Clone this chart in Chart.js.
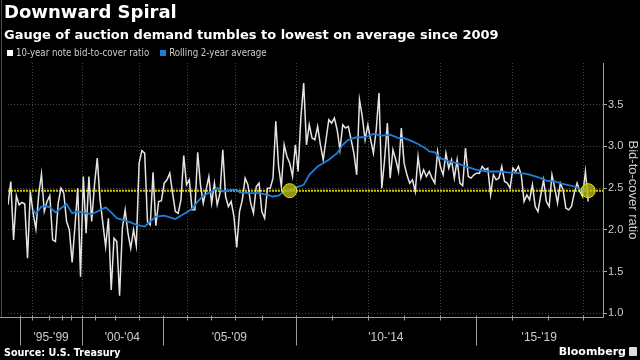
<!DOCTYPE html>
<html>
<head>
  <title>Downward Spiral</title>
  <style>
    body {
      margin: 0;
      background: #000;
      width: 640px;
      height: 360px;
      overflow: hidden;
      position: relative;
      font-family: "DejaVu Sans", sans-serif;
    }
    #edge {
      position: absolute;
      left: 1px;
      top: 0;
      width: 1px;
      height: 317px;
      background: #4a4a4a;
    }
    #title {
      position: absolute;
      left: 4px;
      top: 1px;
      color: #fff;
      font-weight: bold;
      font-size: 18px;
      line-height: 22px;
    }
    #subtitle {
      position: absolute;
      left: 4px;
      top: 26px;
      color: #fff;
      font-weight: bold;
      font-size: 13px;
      line-height: 18px;
    }
    #legend {
      position: absolute;
      left: 7px;
      top: 46px;
      color: #ccc;
      font-family: "Liberation Sans Narrow", "DejaVu Sans Condensed", sans-serif;
      font-size: 9.6px;
      line-height: 13px;
      white-space: nowrap;
    }
    .swatch {
      display: inline-block;
      width: 6px;
      height: 6px;
      margin-right: 3px;
      vertical-align: 0px;
    }
    #source {
      position: absolute;
      left: 4px;
      top: 346px;
      color: #fff;
      font-weight: bold;
      font-size: 9.6px;
      line-height: 13px;
    }
    #brand {
      position: absolute;
      right: 14px;
      top: 345px;
      color: #fff;
      font-weight: bold;
      font-size: 11px;
      line-height: 14px;
    }
    #brandIcon {
      position: absolute;
      right: 3px;
      top: 347px;
      width: 8px;
      height: 9px;
      background: #ddd;
      border-radius: 1px;
    }
    #chart {
      position: absolute;
      left: 0;
      top: 0;
    }
  </style>
</head>
<body>
  <canvas id="chart" width="640" height="360"></canvas>
  <div id="edge"></div>
  <div id="title">Downward Spiral</div>
  <div id="subtitle">Gauge of auction demand tumbles to lowest on average since 2009</div>
  <div id="legend"><span class="swatch" style="background:#fff"></span>10-year note bid-to-cover ratio&nbsp;&nbsp;&nbsp;&nbsp;<span class="swatch" style="background:#1e7fd8"></span>Rolling 2-year average</div>
  <div id="source">Source: U.S. Treasury</div>
  <div id="brand">Bloomberg</div>
  <div id="brandIcon"></div>

  <script src="https://cdn.jsdelivr.net/npm/chart.js"></script>
  <script>
    // 10-year note bid-to-cover ratio, one value per auction (oldest first)
    const bidToCover = [
      2.30, 2.58, 1.88, 2.41, 2.30, 2.33, 2.31, 1.66, 2.46, 2.20,
      2.01, 2.42, 2.67, 2.22, 2.34, 2.41, 1.88, 1.86, 2.32, 2.50,
      2.44, 2.10, 2.00, 1.61, 2.04, 2.50, 1.44, 2.64, 1.96, 2.64,
      2.10, 2.54, 2.86, 2.36, 2.08, 1.80, 2.14, 1.28, 1.90, 1.86,
      1.21, 2.02, 2.24, 1.96, 1.78, 2.00, 1.81, 2.80, 2.95, 2.92,
      2.10, 2.06, 2.69, 2.05, 2.34, 2.35, 2.56, 2.60, 2.68, 2.44,
      2.22, 2.20, 2.36, 2.89, 2.54, 2.60, 2.24, 2.24, 2.93, 2.54,
      2.32, 2.48, 2.64, 2.32, 2.56, 2.30, 2.44, 2.96, 2.40, 2.28,
      2.34, 2.16, 1.79, 2.22, 2.36, 2.62, 2.54, 2.32, 2.20, 2.52,
      2.56, 2.22, 2.14, 2.50, 2.50, 2.62, 3.30, 2.76, 2.52, 3.02,
      2.88, 2.80, 2.64, 3.02, 2.70, 3.35, 3.76, 3.02, 3.26, 3.10,
      3.08, 3.24, 3.02, 2.84, 3.08, 3.32, 3.28, 3.34, 3.20, 2.96,
      3.26, 3.22, 3.24, 3.08, 2.92, 2.66, 3.56, 3.36, 3.08, 3.26,
      3.08, 2.92, 3.20, 3.64, 2.50, 2.84, 3.28, 2.62, 2.96, 2.84,
      2.70, 3.22, 2.80, 2.66, 2.56, 2.60, 2.46, 2.88, 2.62, 2.72,
      2.64, 2.70, 2.62, 2.56, 2.94, 2.76, 2.66, 2.92, 2.74, 2.84,
      2.62, 2.84, 2.56, 2.53, 2.98, 2.64, 2.62, 2.66, 2.68, 2.68,
      2.76, 2.72, 2.74, 2.42, 2.66, 2.60, 2.62, 2.76, 2.58, 2.56,
      2.50, 2.74, 2.70, 2.76, 2.66, 2.34, 2.42, 2.36, 2.54, 2.28,
      2.22, 2.42, 2.60, 2.34, 2.28, 2.66, 2.50, 2.32, 2.56, 2.48,
      2.26, 2.24, 2.28, 2.44, 2.56, 2.46, 2.40, 2.70, 2.34
    ];

    // rolling 2-year average, read at these auction numbers
    const avgAuction = [
      9, 10, 12, 14, 15, 17, 19, 21, 23, 25, 28, 30, 32, 35, 37, 39, 42, 44, 46, 49,
      51, 53, 56, 58, 60, 63, 66, 68, 70, 73, 75, 77, 80, 82, 83, 87, 90, 93, 95, 97,
      99, 101, 106, 108, 111, 115, 118, 120, 122, 125, 128, 131, 134, 137, 140, 142, 145, 147, 150, 151,
      153, 155, 158, 161, 164, 166, 168, 172, 176, 179, 183, 186, 189, 191, 193, 196, 199, 203, 206, 208
    ];
    const avgValue = [
      2.24, 2.19, 2.28, 2.28, 2.27, 2.21, 2.26, 2.31, 2.20, 2.22, 2.20, 2.19, 2.22, 2.27, 2.21, 2.14, 2.11, 2.09, 2.06, 2.04,
      2.10, 2.16, 2.17, 2.15, 2.13, 2.19, 2.25, 2.34, 2.41, 2.46, 2.50, 2.46, 2.48, 2.48, 2.45, 2.44, 2.44, 2.42, 2.40, 2.41,
      2.46, 2.48, 2.54, 2.66, 2.76, 2.84, 2.92, 3.02, 3.08, 3.11, 3.11, 3.15, 3.13, 3.14, 3.10, 3.10, 3.06, 3.03, 2.97, 2.94,
      2.93, 2.86, 2.82, 2.80, 2.76, 2.74, 2.72, 2.70, 2.70, 2.69, 2.68, 2.67, 2.64, 2.62, 2.59, 2.58, 2.55, 2.52, 2.48, 2.47
    ];

    // current average level and the two points where the average sits on it
    const refLevel = 2.47;
    const markerAuction = [101, 208];
    const markerValue = [2.47, 2.47];

    // x axis (auction number): year boundaries, 5-year groups, dotted grid
    const yearTicks = [4.3, 8.5, 14.6, 19.2, 22.7, 26.6, 31.2, 38.3, 46.9, 55.4, 64.3, 72.8,
      81.3, 90.9, 103.3, 116.1, 129.2, 142.0, 154.8, 167.6, 180.7, 193.5, 206.3];
    const periodStarts = [4.3, 26.6, 55.4, 103.3, 167.6];
    const periodLabels = ["'95-'99", "'00-'04", "'05-'09", "'10-'14", "'15-'19"];
    const gridAuctions = [8.5, 26.6, 46.9, 64.3, 81.3, 103.3, 129.2, 154.8, 180.7, 206.3];
    const xMax = 213.3;

    const yTicks = [1.0, 1.5, 2.0, 2.5, 3.0, 3.5];

    const axisDecor = {
      id: 'axisDecor',
      beforeDatasetsDraw(chart) {
        const {ctx, chartArea: a, scales: {x}} = chart;
        ctx.save();
        ctx.strokeStyle = 'rgba(255,255,255,0.28)';
        ctx.lineWidth = 1;
        ctx.setLineDash([1, 2]);
        gridAuctions.forEach(v => {
          const px = Math.round(x.getPixelForValue(v)) + 0.5;
          ctx.beginPath();
          ctx.moveTo(px, a.top);
          ctx.lineTo(px, a.bottom);
          ctx.stroke();
        });
        ctx.restore();
      },
      afterDraw(chart) {
        const {ctx, chartArea: a, scales: {x}} = chart;
        const base = Math.round(a.bottom) + 0.5;
        ctx.save();
        ctx.strokeStyle = '#9a9a9a';
        ctx.lineWidth = 1;
        ctx.beginPath();
        ctx.moveTo(0, base);
        ctx.lineTo(a.right, base);
        ctx.stroke();
        yearTicks.forEach(v => {
          const px = Math.round(x.getPixelForValue(v)) + 0.5;
          ctx.beginPath();
          ctx.moveTo(px, base - 2);
          ctx.lineTo(px, base + 3);
          ctx.stroke();
        });
        periodStarts.forEach(v => {
          const px = Math.round(x.getPixelForValue(v)) + 0.5;
          ctx.beginPath();
          ctx.moveTo(px, base);
          ctx.lineTo(px, base + 28);
          ctx.stroke();
        });
        ctx.fillStyle = '#cccccc';
        ctx.font = '12px "Liberation Sans", sans-serif';
        ctx.textAlign = 'center';
        ctx.textBaseline = 'middle';
        periodLabels.forEach((t, i) => {
          const end = i + 1 < periodStarts.length ? periodStarts[i + 1] : xMax;
          const px = (x.getPixelForValue(periodStarts[i]) + x.getPixelForValue(end)) / 2;
          ctx.fillText(t, px, base + 20);
        });
        ctx.restore();
      }
    };

    const ctx = document.getElementById('chart').getContext('2d');
    new Chart(ctx, {
      type: 'line',
      data: {
        datasets: [
          {
            label: 'Current average',
            data: [{x: 0, y: refLevel}, {x: xMax, y: refLevel}],
            borderColor: '#cccc00',
            borderWidth: 2,
            borderDash: [2, 1],
            pointRadius: 0,
            order: 4
          },
          {
            label: '10-year note bid-to-cover ratio',
            data: bidToCover.map((v, i) => ({x: i, y: v})),
            borderColor: '#e4e4e4',
            borderWidth: 1.5,
            pointRadius: 0,
            tension: 0,
            order: 3
          },
          {
            label: 'Rolling 2-year average',
            data: avgAuction.map((a, i) => ({x: a, y: avgValue[i]})),
            borderColor: '#1e7fd8',
            borderWidth: 1.8,
            pointRadius: 0,
            tension: 0,
            order: 2
          },
          {
            label: 'Markers',
            data: markerAuction.map((a, i) => ({x: a, y: markerValue[i]})),
            showLine: false,
            pointRadius: 7,
            pointBackgroundColor: 'rgba(185,185,20,0.8)',
            pointBorderColor: '#e6e600',
            pointBorderWidth: 1,
            order: 1
          }
        ]
      },
      options: {
        responsive: false,
        animation: false,
        layout: {padding: {top: 63, left: 2, right: 0, bottom: 43}},
        plugins: {legend: {display: false}, tooltip: {enabled: false}},
        scales: {
          x: {type: 'linear', display: false, min: 0, max: xMax},
          y: {
            position: 'right',
            min: 0.956,
            max: 4.0,
            afterBuildTicks: s => { s.ticks = yTicks.map(v => ({value: v})); },
            afterFit: s => { s.width = 37; },
            ticks: {
              color: '#cccccc',
              font: {size: 11, family: 'Liberation Sans'},
              padding: 1,
              callback: v => Number(v).toFixed(1)
            },
            grid: {color: 'rgba(255,255,255,0.28)', tickColor: '#aaaaaa', tickLength: 4},
            border: {display: true, color: '#9a9a9a', dash: [1, 2]},
            title: {
              display: true,
              text: 'Bid-to-cover ratio',
              color: '#cccccc',
              font: {size: 13, family: 'Liberation Sans'},
              padding: 0
            }
          }
        }
      },
      plugins: [axisDecor]
    });
  </script>
</body>
</html>
